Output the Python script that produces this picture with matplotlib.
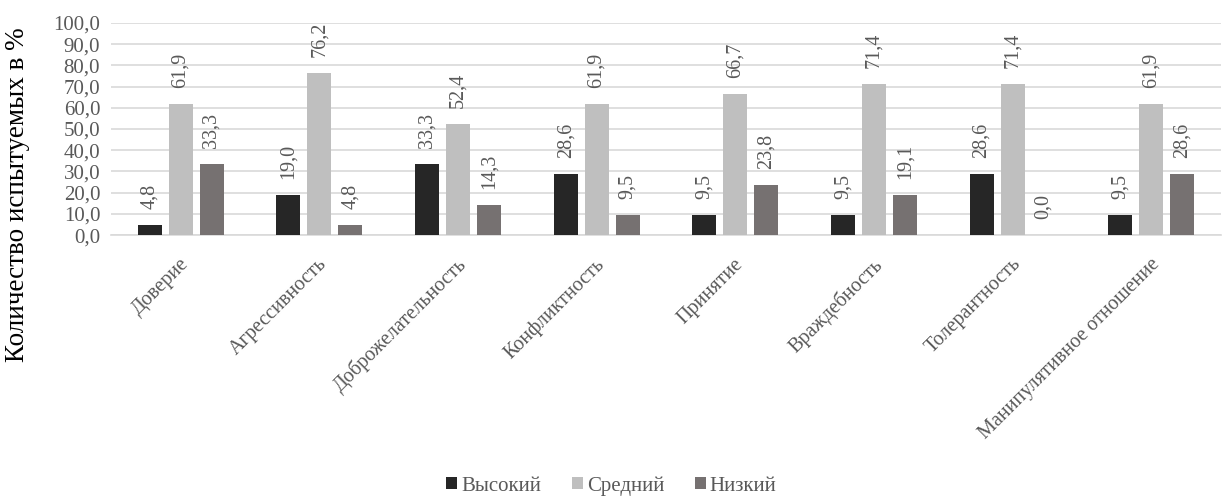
import numpy as np
import matplotlib.pyplot as plt

categories = ['Доверие', 'Агрессивность', 'Доброжелательность', 'Конфликтность',
              'Принятие', 'Враждебность', 'Толерантность', 'Манипулятивное отношение']
high = [4.8, 19.0, 33.3, 28.6, 9.5, 9.5, 28.6, 9.5]
medium = [61.9, 76.2, 52.4, 61.9, 66.7, 71.4, 71.4, 61.9]
low = [33.3, 4.8, 14.3, 9.5, 23.8, 19.1, 0.0, 28.6]
series_names = ['Высокий', 'Средний', 'Низкий']
colors = ['#262626', '#bfbfbf', '#767171']

plt.rcParams['font.family'] = ['Liberation Serif', 'DejaVu Serif']
text_color = '#595959'

fig = plt.figure(figsize=(12.23, 4.97), dpi=100)
ax = fig.add_axes([0.091, 0.527, 0.907, 0.427])

x = np.arange(len(categories))
width = 0.173
step = 0.223

def fmt(v):
    return '{:.1f}'.format(v).replace('.', ',')

for i, (vals, name, c) in enumerate(zip([high, medium, low], series_names, colors)):
    pos = x + (i - 1) * step
    ax.bar(pos, vals, width, color=c, label=name, zorder=3)
    for p, v in zip(pos, vals):
        ax.annotate(fmt(v), (p, v), xytext=(0, 11.5), textcoords='offset points',
                    rotation=90, ha='center', va='bottom',
                    fontsize=14.5, color=text_color)

ax.set_xlim(-0.5, len(categories) - 0.5)
ax.set_ylim(0, 100)
ax.set_yticks(np.arange(0, 101, 10))
ax.set_yticklabels([fmt(v) for v in np.arange(0, 101, 10)], fontsize=15, color=text_color)
ax.yaxis.grid(True, color='#d9d9d9', linewidth=1.2, zorder=0)
ax.set_xticks(x - 0.01)
ax.set_xticklabels(categories, rotation=45, ha='right', rotation_mode='anchor',
                   fontsize=14.5, color=text_color)
ax.tick_params(axis='both', length=0)
ax.tick_params(axis='y', pad=8)
ax.tick_params(axis='x', pad=14)
for s in ['top', 'right', 'left']:
    ax.spines[s].set_visible(False)
ax.spines['bottom'].set_color('#d9d9d9')
ax.spines['bottom'].set_linewidth(1.2)

ax.set_ylabel('Количество испытуемых в %', fontsize=19.5, color='black')
ax.yaxis.set_label_coords(-0.073, 0.19)

fig.legend(loc='lower center', bbox_to_anchor=(0.5, -0.035), ncol=3, frameon=False,
           fontsize=15, handlelength=0.5, handleheight=0.5, handletextpad=0.2,
           columnspacing=1.5, labelcolor=text_color)

fig.savefig('out.png', dpi=100)
